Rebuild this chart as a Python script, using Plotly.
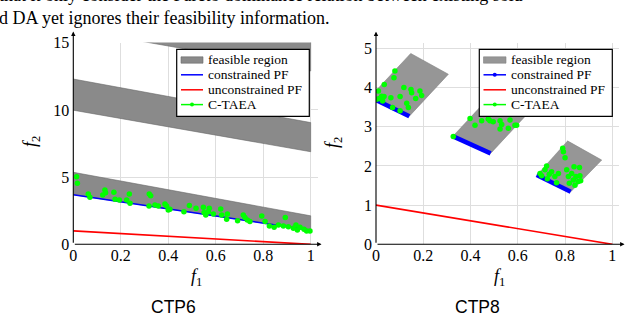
import plotly.graph_objects as go

# ---------------- data ----------------
ticks_x = [0, 0.2, 0.4, 0.6, 0.8, 1]
ticks_x_text = ["0", "0.2", "0.4", "0.6", "0.8", "1"]
ticks_y6 = [0, 5, 10, 15]
ticks_y8 = [0, 1, 2, 3, 4, 5]

legend_labels = ["feasible region", "constrained PF", "unconstrained PF", "C-TAEA"]

# CTP6 feasible bands (polygon vertices)
band1_x = [0, 1, 1, 0]
band1_y = [3.69, 1.05, 2.12, 5.36]
band2_x = [0, 1, 1, 0]
band2_y = [9.98, 6.89, 9.06, 12.3]
band3_x = [0, 1, 1, 0]
band3_y = [16.0, 12.9, 16.2, 19.3]

pf6_x = [0, 1]
pf6_y = [3.69, 1.05]
upf_x = [0, 1]
upf_y = [1, 0]

ctaea6_x = [0.014, 0.017, 0.063, 0.07, 0.124, 0.133, 0.136, 0.171, 0.176, 0.194,
            0.225, 0.236, 0.239, 0.32, 0.326, 0.319, 0.344, 0.358, 0.386, 0.393,
            0.4, 0.407, 0.466, 0.489, 0.517, 0.548, 0.551, 0.558, 0.569, 0.573,
            0.59, 0.621, 0.625, 0.646, 0.649, 0.692, 0.716, 0.723, 0.733, 0.744,
            0.794, 0.808, 0.826, 0.846, 0.864, 0.885, 0.893, 0.906, 0.927, 0.938,
            0.944, 0.955, 0.972, 0.983, 0.997]
ctaea6_y = [5.03, 4.54, 3.74, 3.5, 3.67, 4.04, 3.84, 3.87, 3.35, 3.3,
            3.3, 3.74, 3.05, 3.74, 3.62, 2.85, 2.93, 2.85, 3.0, 2.85,
            2.55, 2.6, 2.43, 2.88, 2.68, 2.75, 2.36, 2.18, 2.43, 2.68,
            2.26, 2.63, 2.18, 1.86, 2.26, 1.76, 2.18, 2.0, 1.81, 1.69,
            2.1, 1.69, 1.36, 1.26, 1.44, 1.36, 2.0, 1.31, 1.19, 1.44,
            1.07, 1.26, 1.12, 0.99, 0.99]

# CTP8 feasible patches
patch1_x = [0, 0.141, 0.306, 0.147, 0]
patch1_y = [3.68, 3.27, 4.34, 4.87, 3.92]
patch2_x = [0.324, 0.485, 0.65, 0.489]
patch2_y = [2.76, 2.32, 3.39, 3.83]
patch3_x = [0.68, 0.824, 0.955, 0.81]
patch3_y = [1.77, 1.34, 2.15, 2.64]

pf8_segments = [([0, 0.141], [3.68, 3.27]),
                ([0.324, 0.485], [2.76, 2.32]),
                ([0.68, 0.824], [1.77, 1.34])]

ctaea8_x = [0.003, 0.01, 0.014, 0.024, 0.028, 0.035, 0.034, 0.063, 0.07, 0.076,
            0.08, 0.102, 0.102, 0.118, 0.13, 0.137, 0.148, 0.151, 0.168, 0.186,
            0.193,
            0.327, 0.398, 0.419, 0.447, 0.475, 0.482, 0.496, 0.525, 0.525, 0.532,
            0.56, 0.567, 0.588, 0.595,
            0.694, 0.701, 0.715, 0.722, 0.725, 0.733, 0.743, 0.757, 0.764, 0.772,
            0.79, 0.793, 0.8, 0.807, 0.814, 0.818, 0.828, 0.835, 0.838, 0.842,
            0.846, 0.856, 0.861, 0.863, 0.866]
ctaea8_y = [3.70, 3.91, 3.72, 3.78, 3.66, 4.08, 3.77, 3.74, 3.49, 4.25,
            4.42, 3.77, 3.41, 4.0, 3.6, 3.49, 3.95, 3.87, 3.72, 3.91,
            3.8,
            2.75, 3.21, 3.04, 3.15, 3.2, 3.15, 3.13, 3.15, 2.94, 3.06,
            2.96, 3.17, 3.04, 3.04,
            1.81, 1.75, 1.9, 2.0, 1.67, 1.79, 1.85, 1.73, 1.57, 1.81,
            2.45, 2.36, 2.21, 1.9, 1.73, 1.56, 1.81, 1.64, 1.98, 1.51,
            1.73, 1.6, 1.96, 1.75, 1.62]

# ---------------- styles ----------------
W, H = 640, 314
SERIF = "Liberation Serif"
GRAY6_FILL = "rgb(138,138,138)"
GRAY6_LINE = "rgb(105,105,105)"
GRAY8_FILL = "rgb(150,150,150)"
GRAY8_LINE = "rgb(130,130,130)"
BLUE = "rgb(0,0,255)"
RED = "rgb(255,0,0)"
GREEN = "rgb(0,255,0)"

def px(x):
    return x / W

def py(y):
    return 1 - y / H

fig = go.Figure()

# ---- CTP6 ----
for bx, by in [(band1_x, band1_y), (band2_x, band2_y), (band3_x, band3_y)]:
    fig.add_trace(go.Scatter(x=bx, y=by, fill="toself", mode="lines",
                             fillcolor=GRAY6_FILL, line=dict(color=GRAY6_LINE, width=0.6),
                             xaxis="x", yaxis="y", hoverinfo="skip"))
fig.add_trace(go.Scatter(x=pf6_x, y=pf6_y, mode="lines", line=dict(color=BLUE, width=1.6),
                         xaxis="x", yaxis="y"))
fig.add_trace(go.Scatter(x=upf_x, y=upf_y, mode="lines", line=dict(color=RED, width=1.6),
                         xaxis="x", yaxis="y"))
fig.add_trace(go.Scatter(x=ctaea6_x, y=ctaea6_y, mode="markers",
                         marker=dict(color=GREEN, size=5.5), xaxis="x", yaxis="y"))

# ---- CTP8 ----
for bx, by in [(patch1_x, patch1_y), (patch2_x, patch2_y), (patch3_x, patch3_y)]:
    fig.add_trace(go.Scatter(x=bx, y=by, fill="toself", mode="lines",
                             fillcolor=GRAY8_FILL, line=dict(color=GRAY8_LINE, width=0.6),
                             xaxis="x2", yaxis="y2", hoverinfo="skip"))
for sx, sy in pf8_segments:
    fig.add_trace(go.Scatter(x=sx, y=sy, mode="lines", line=dict(color=BLUE, width=4.5),
                             xaxis="x2", yaxis="y2"))
fig.add_trace(go.Scatter(x=upf_x, y=upf_y, mode="lines", line=dict(color=RED, width=1.6),
                         xaxis="x2", yaxis="y2"))
fig.add_trace(go.Scatter(x=ctaea8_x, y=ctaea8_y, mode="markers",
                         marker=dict(color=GREEN, size=5.5), xaxis="x2", yaxis="y2"))

# ---------------- layout ----------------
ydom = [py(244.3), py(42.5)]
axis_common = dict(showgrid=True, gridcolor="rgb(222,222,222)", gridwidth=1,
                   zeroline=False, showline=False, ticks="", automargin=False,
                   tickfont=dict(family=SERIF, size=16, color="black"))

fig.update_layout(
    width=W, height=H, margin=dict(l=0, r=0, t=0, b=0, autoexpand=False),
    paper_bgcolor="white", plot_bgcolor="white", showlegend=False,
    xaxis=dict(domain=[px(73.3), px(317.8)], range=[0, 1.03], tickvals=ticks_x,
               ticktext=ticks_x_text, anchor="y", **axis_common),
    yaxis=dict(domain=ydom, range=[0, 15.02], tickvals=ticks_y6, anchor="x",
               ticklabelstandoff=3, **axis_common),
    xaxis2=dict(domain=[px(376), px(619.4)], range=[0, 1.03], tickvals=ticks_x,
                ticktext=ticks_x_text, anchor="y2", **axis_common),
    yaxis2=dict(domain=ydom, range=[0, 5.15], tickvals=ticks_y8, anchor="x2",
                ticklabelstandoff=3, **axis_common),
)

annotations = []
shapes = []

# ---- manual legends (pgfplots style) ----
def add_legend(x0, x1, y0, y1, sym0, sym1, text_x, rows, fill_col, line_col, pf_marker):
    shapes.append(dict(type="rect", xref="paper", yref="paper",
                       x0=px(x0), x1=px(x1), y0=py(y1), y1=py(y0),
                       fillcolor="white", line=dict(color="black", width=1.2), layer="above"))
    cols = [None, BLUE, RED, GREEN]
    for i, (ry, label) in enumerate(zip(rows, legend_labels)):
        if i == 0:
            shapes.append(dict(type="rect", xref="paper", yref="paper",
                               x0=px(sym0), x1=px(sym1), y0=py(ry + 3.2), y1=py(ry - 3.2),
                               fillcolor=fill_col, line=dict(color=line_col, width=0.6),
                               layer="above"))
        else:
            shapes.append(dict(type="line", xref="paper", yref="paper",
                               x0=px(sym0), x1=px(sym1), y0=py(ry), y1=py(ry),
                               line=dict(color=cols[i], width=1.5), layer="above"))
            if i == 3 or (i == 1 and pf_marker):
                cx = (sym0 + sym1) / 2
                shapes.append(dict(type="circle", xref="paper", yref="paper",
                                   x0=px(cx - 2), x1=px(cx + 2), y0=py(ry + 2), y1=py(ry - 2),
                                   fillcolor=cols[i], line=dict(color=cols[i], width=0),
                                   layer="above"))
        annotations.append(dict(x=px(text_x), y=py(ry), xref="paper", yref="paper",
                                xanchor="left", yanchor="middle", text=label,
                                showarrow=False,
                                font=dict(family=SERIF, size=13.5, color="black")))

legend_rows = [60, 74.8, 89.8, 104.6]
add_legend(176.7, 309.3, 49.3, 116.3, 181, 203, 205.5, legend_rows,
           GRAY6_FILL, GRAY6_LINE, False)
add_legend(479.3, 612.3, 49.3, 116.3, 483.5, 506, 508.5, legend_rows,
           GRAY8_FILL, GRAY8_LINE, True)

# axis lines with arrows
for (tipx, tipy, axp, ayp) in [(321.5, 244.3, -(321.5 - 73.3), 0),
                               (73.3, 31.5, 0, 244.3 - 31.5),
                               (624.5, 244.3, -(624.5 - 376), 0),
                               (376, 31.7, 0, 244.3 - 31.7)]:
    annotations.append(dict(x=px(tipx), y=py(tipy), xref="paper", yref="paper",
                            ax=axp, ay=ayp, axref="pixel", ayref="pixel",
                            text="", showarrow=True, arrowhead=2, arrowsize=0.8,
                            arrowwidth=1.1, arrowcolor="black", standoff=0, startstandoff=0))
# axis titles
for cx in [196, 499]:
    annotations.append(dict(x=px(cx), y=py(277), xref="paper", yref="paper",
                            xanchor="center", yanchor="middle",
                            text="<i>f</i><sub>1</sub>", showarrow=False,
                            font=dict(family=SERIF, size=18, color="black")))
for cx, cy in [(31, 142), (333, 143)]:
    annotations.append(dict(x=px(cx), y=py(cy), xref="paper", yref="paper",
                            xanchor="center", yanchor="middle",
                            text="<i>f</i><sub>2</sub>", showarrow=False, textangle=-90,
                            font=dict(family=SERIF, size=18, color="black")))
# subplot captions
for cx, label in [(173, "CTP6"), (477, "CTP8")]:
    annotations.append(dict(x=px(cx), y=py(307), xref="paper", yref="paper",
                            xanchor="center", yanchor="middle",
                            text=label, showarrow=False,
                            font=dict(family="Liberation Sans", size=17.5, color="black")))
# surrounding paper text
annotations.append(dict(x=px(-3), y=py(18), xref="paper", yref="paper", xanchor="left",
                        yanchor="middle",
                        text="d DA yet ignores their feasibility information.", showarrow=False,
                        font=dict(family=SERIF, size=18, color="black")))
annotations.append(dict(x=px(-3), y=py(-5), xref="paper", yref="paper", xanchor="left",
                        yanchor="middle",
                        text="that it only consider the Pareto dominance relation between existing solu",
                        showarrow=False, font=dict(family=SERIF, size=18, color="black")))
fig.update_layout(annotations=annotations, shapes=shapes)

fig.write_html("out.html", config={"displayModeBar": False},
               post_script="document.body.style.margin='0px';")
